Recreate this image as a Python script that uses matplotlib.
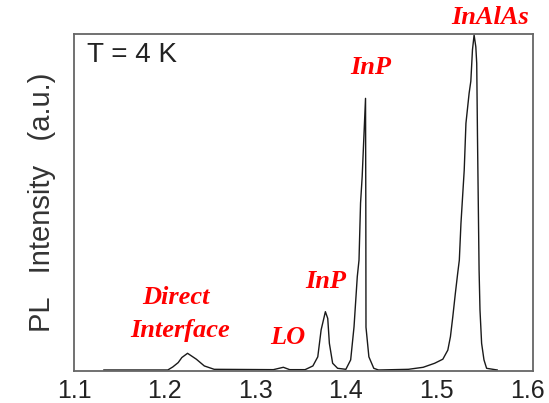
import matplotlib.pyplot as plt

# PL spectrum (photon energy in eV, intensity in a.u.)
energy = [1.133, 1.2035, 1.209, 1.215, 1.219, 1.2253, 1.235, 1.2438, 1.2547,
          1.320, 1.331, 1.338, 1.355, 1.3636, 1.369, 1.3727, 1.3774, 1.380,
          1.3818, 1.3854, 1.3909, 1.400, 1.4053, 1.409, 1.4126, 1.4145,
          1.4162, 1.418, 1.4217, 1.4220, 1.4222, 1.4254, 1.4308, 1.436,
          1.469, 1.4853, 1.498, 1.507, 1.5125, 1.5154, 1.518, 1.5208, 1.5234,
          1.5252, 1.527, 1.5306, 1.5325, 1.536, 1.5379, 1.5397, 1.5415,
          1.5434, 1.5444, 1.5452, 1.547, 1.548, 1.5498, 1.5524, 1.5553, 1.567]
intensity = [0.003, 0.003, 0.012, 0.025, 0.040, 0.0525, 0.035, 0.015, 0.005,
             0.004, 0.011, 0.004, 0.004, 0.015, 0.042, 0.122, 0.176, 0.156,
             0.082, 0.023, 0.008, 0.005, 0.033, 0.131, 0.280, 0.329,
             0.498, 0.577, 0.809, 0.500, 0.130, 0.042, 0.008, 0.003,
             0.005, 0.011, 0.023, 0.035, 0.062, 0.102, 0.161, 0.230, 0.290,
             0.329, 0.438, 0.596, 0.735, 0.824, 0.860, 0.953, 0.997,
             0.962, 0.913, 0.705, 0.300, 0.181, 0.082, 0.033, 0.008, 0.003]

tick_values = [1.1, 1.2, 1.3, 1.4, 1.5, 1.6]

# peak labels: (text, x, y in pixels of the 549x403 picture)
peak_labels = [
    ("InAlAs", 490, 17),
    ("InP", 371, 68),
    ("InP", 326, 282),
    ("LO", 288, 338),
    ("Direct", 176, 298),
    ("Interface", 180, 331),
]

plt.rcParams['font.family'] = ['Liberation Sans', 'DejaVu Sans']

fig = plt.figure(figsize=(5.49, 4.03), dpi=100)
ax = fig.add_axes([74 / 549, 1 - 371 / 403, 459 / 549, 337 / 403])

ax.plot(energy, intensity, color='#1a1a1a', linewidth=1.0)

ax.set_xlim(1.1065, 1.6065)
ax.set_ylim(0, 1.0)
ax.set_xticks(tick_values)
ax.set_xticklabels([f'{v:.1f}' for v in tick_values])
ax.set_yticks([])
ax.tick_params(axis='x', length=0, pad=6, labelsize=18, labelcolor='#222222')
for s in ax.spines.values():
    s.set_color('#666666')
    s.set_linewidth(1.3)

ax.set_ylabel('PL   Intensity   (a.u.)', fontsize=21, color='#333333', labelpad=13)

fig.text(87 / 549, 1 - 55 / 403, 'T = 4 K', fontsize=20, color='#222222',
         ha='left', va='center')

for txt, px, py in peak_labels:
    fig.text(px / 549, 1 - py / 403, txt, color='red', fontsize=19,
             family='Liberation Serif', weight='bold', style='italic',
             ha='center', va='center')

fig.savefig('out.png', dpi=100)
